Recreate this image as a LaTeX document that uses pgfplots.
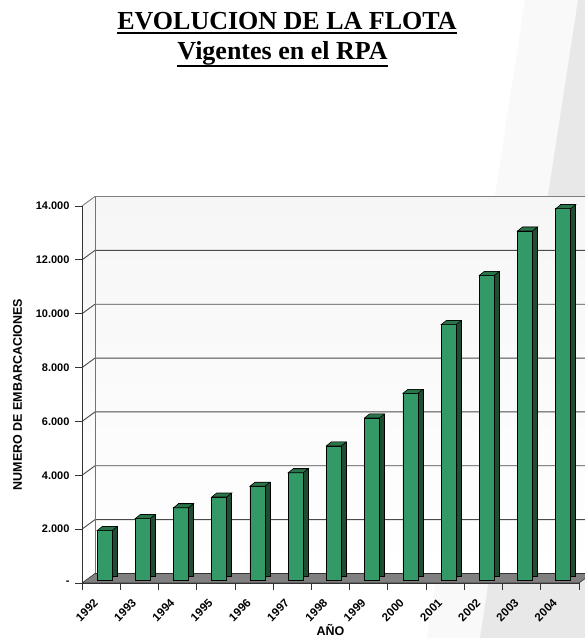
\documentclass[border=0pt]{standalone}
\usepackage{fontspec}
\setmainfont{Liberation Sans}
\newfontfamily\titlefont{Liberation Serif}
\usepackage{pgfplots}
\pgfplotsset{compat=1.18}
\usetikzlibrary{calc}
\definecolor{barfront}{HTML}{339966}
\definecolor{barside}{HTML}{1E4D32}
\definecolor{bartopc}{HTML}{2B7449}
\definecolor{floorgray}{HTML}{808080}
\definecolor{gridgray}{HTML}{4A4A4A}
\definecolor{wallmid}{HTML}{C2C2C2}
\definecolor{walltop}{HTML}{F6F6F6}

\pgfdeclareplotmark{bartop3d}{%
  \pgfpathmoveto{\pgfqpoint{-4.1bp}{2.5bp}}%
  \pgfpathlineto{\pgfqpoint{10.9bp}{2.5bp}}%
  \pgfpathlineto{\pgfqpoint{15.9bp}{6.5bp}}%
  \pgfpathlineto{\pgfqpoint{0.9bp}{6.5bp}}%
  \pgfpathclose
  \pgfusepathqfillstroke}

\pgfplotstableread{
x y
0 1850
1 2300
2 2700
3 3100
4 3500
5 4000
6 5000
7 6040
8 6950
9 9500
10 11330
11 12980
12 13810
}\flota

\begin{document}
\begin{tikzpicture}
\useasboundingbox (0,0) rectangle (585bp,638bp);
% slide background bands
\fill[walltop!70!white] (525bp,638bp) -- (585bp,638bp) -- (585bp,0) -- (427bp,0) -- cycle;
\fill[black!9] (578bp,638bp) -- (585bp,638bp) -- (585bp,0) -- (480bp,0) -- cycle;
% title
\node[anchor=base, inner sep=0pt, font=\titlefont\bfseries\fontsize{26bp}{30bp}\selectfont] (t1) at (287bp,608.7bp) {EVOLUCION DE LA FLOTA};
\draw[line width=1.8bp] ($(t1.base west)+(0,-4bp)$) -- ($(t1.base east)+(0,-4bp)$);
\node[anchor=base, inner sep=0pt, font=\titlefont\bfseries\fontsize{26bp}{30bp}\selectfont] (t2) at (282.5bp,578.7bp) {Vigentes en el RPA};
\draw[line width=1.8bp] ($(t2.base west)+(0,-6.5bp)$) -- ($(t2.base east)+(0,-6.5bp)$);

\begin{axis}[
  at={(82bp,55bp)}, anchor=south west,
  scale only axis, width=497bp, height=377bp,
  clip=false, axis on top,
  xmin=-0.5, xmax=12.5, ymin=0, ymax=14000,
  scaled y ticks=false,
  axis x line*=bottom, axis y line*=left,
  axis line style={black!80, line width=0.8bp},
  tick style={black!80, line width=0.8bp},
  tick align=outside, major tick length=7bp,
  tick label style={font=\bfseries\fontsize{11bp}{13bp}\selectfont},
  ytick={0,2000,4000,6000,8000,10000,12000,14000},
  yticklabels={{-\hspace{12bp}},2.000,4.000,6.000,8.000,10.000,12.000,14.000},
  yticklabel style={xshift=-2bp},
  xtick={-0.5,0.5,...,12.5},
  xticklabels={},
  extra x ticks={0,1,2,3,4,5,6,7,8,9,10,11,12},
  extra x tick labels={1992,1993,1994,1995,1996,1997,1998,1999,2000,2001,2002,2003,2004},
  extra x tick style={major tick length=0pt,
    xticklabel style={xshift=-5bp, yshift=-18bp, rotate=45, anchor=east, inner sep=0pt,
      font=\bfseries\fontsize{11.5bp}{13bp}\selectfont}},
  xlabel={AÑO}, ylabel={NUMERO DE EMBARCACIONES},
  every axis x label/.style={at={(axis description cs:0.5,0)}, anchor=base, yshift=-52bp,
    font=\bfseries\fontsize{12.5bp}{14bp}\selectfont},
  every axis y label/.style={at={(axis description cs:0,0.5)}, xshift=-60bp, rotate=90, anchor=base,
    font=\bfseries\fontsize{12.5bp}{14bp}\selectfont},
]
% back wall
\shade[top color=walltop, middle color=wallmid, bottom color=white]
  ($(axis cs:-0.5,0)+(13bp,9.5bp)$) rectangle ($(axis cs:13.5,14000)+(13bp,9.5bp)$);
% left wall
\shade[top color=walltop, middle color=wallmid, bottom color=white]
  (axis cs:-0.5,0) -- (axis cs:-0.5,14000) -- ($(axis cs:-0.5,14000)+(13bp,9.5bp)$)
  -- ($(axis cs:-0.5,0)+(13bp,9.5bp)$) -- cycle;
% grid lines
\pgfplotsinvokeforeach{2000,4000,6000,8000,10000,12000}{
  \draw[gridgray, line width=0.9bp] (axis cs:-0.5,#1) -- ($(axis cs:-0.5,#1)+(13bp,9.5bp)$)
    -- ($(axis cs:13.5,#1)+(13bp,9.5bp)$);
}
\draw[black!50, line width=0.9bp] (axis cs:-0.5,14000) -- ($(axis cs:-0.5,14000)+(13bp,9.5bp)$)
    -- ($(axis cs:13.5,14000)+(13bp,9.5bp)$);
\draw[black!55, line width=0.8bp] ($(axis cs:-0.5,0)+(13bp,9.5bp)$) -- ($(axis cs:-0.5,14000)+(13bp,9.5bp)$);
% floor
\filldraw[fill=floorgray, draw=black!80, line width=0.6bp] (axis cs:-0.5,0) -- (axis cs:12.5,0)
  -- ($(axis cs:12.5,0)+(13bp,9.5bp)$) -- ($(axis cs:-0.5,0)+(13bp,9.5bp)$) -- cycle;
% bars: side (back copy), front, top
\addplot[ybar, bar width=15bp, bar shift=8.4bp, yshift=6.5bp, fill=barside, draw=black, line width=0.6bp]
  table[x=x, y=y] {\flota};
\addplot[ybar, bar width=15bp, bar shift=3.4bp, yshift=2.5bp, fill=barfront, draw=black, line width=0.6bp]
  table[x=x, y=y] {\flota};
\addplot[only marks, mark=bartop3d, mark options={fill=bartopc, draw=black, line width=0.6bp}]
  table[x=x, y=y] {\flota};
\end{axis}
\end{tikzpicture}
\end{document}
